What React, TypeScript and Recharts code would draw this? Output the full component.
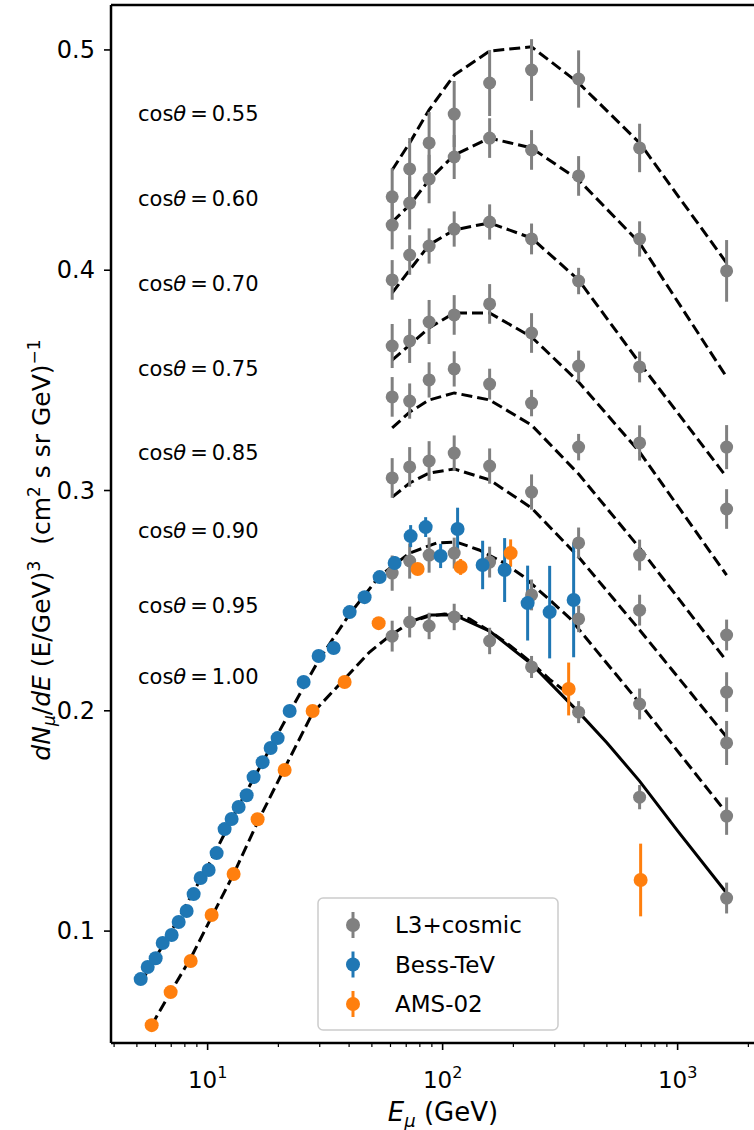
import React from 'react';
import { ComposedChart, Line, Scatter, XAxis, YAxis, ErrorBar, ReferenceLine, Customized } from 'recharts';

// ---------- data ----------
const L3_E = [61, 72.4, 87.6, 112, 158.5, 239, 379, 689, 1616];

const L3_055 = [0.4333, 0.446, 0.4578, 0.4709, 0.485, 0.4909, 0.4868, 0.4555, 0.3997];
const L3_060 = [0.4205, 0.4305, 0.4414, 0.4514, 0.46, 0.4546, 0.4428, 0.4142, 0.3197];
const L3_070 = [0.3956, 0.4069, 0.411, 0.4187, 0.4219, 0.4142, 0.3951, 0.3561, 0.2916];
const L3_075 = [0.3656, 0.3679, 0.3765, 0.3797, 0.3847, 0.3715, 0.3565, 0.3216, 0.2344];
const L3_085 = [0.3425, 0.3406, 0.3502, 0.3552, 0.3483, 0.3397, 0.3197, 0.2707, 0.2085];
const L3_090 = [0.3057, 0.3107, 0.3134, 0.317, 0.3111, 0.2993, 0.2762, 0.2457, 0.1854];
const L3_095 = [0.2625, 0.268, 0.2707, 0.2716, 0.2675, 0.2526, 0.2417, 0.2031, 0.1522];
const L3_100 = [0.2339, 0.2403, 0.2385, 0.2426, 0.2317, 0.2199, 0.1994, 0.1608, 0.115];

const ERR_055 = [0.013, 0.014, 0.014, 0.015, 0.015, 0.014, 0.013, 0.011, 0.014];
const ERR_060 = [0.011, 0.012, 0.011, 0.01, 0.009, 0.009, 0.009, 0.008, 0.01];
const ERR_070 = [0.009, 0.009, 0.008, 0.008, 0.008, 0.007, 0.006, 0.007, 0.009];
const ERR_075 = [0.01, 0.01, 0.01, 0.009, 0.009, 0.009, 0.007, 0.008, 0.007];
const ERR_085 = [0.009, 0.008, 0.008, 0.008, 0.007, 0.006, 0.006, 0.007, 0.009];
const ERR_090 = [0.009, 0.009, 0.009, 0.008, 0.008, 0.008, 0.007, 0.007, 0.01];
const ERR_095 = [0.008, 0.008, 0.008, 0.007, 0.007, 0.007, 0.006, 0.007, 0.0085];
const ERR_100 = [0.007, 0.007, 0.006, 0.006, 0.006, 0.005, 0.005, 0.0055, 0.007];

const BESS_E = [5.19, 5.56, 6.01, 6.44, 7.03, 7.53, 8.14, 8.72, 9.34, 10.1, 10.92, 11.81, 12.65, 13.55, 14.66, 15.69, 17.14, 18.54, 19.86, 22.34, 25.62, 29.68, 34.38, 40.21, 46.56, 53.94, 62.49, 73.1, 84.68, 98.06, 115.8, 148.0, 183.6, 230.0, 285.4, 361.0];
const BESS_V = [0.0782, 0.0837, 0.0877, 0.0946, 0.0982, 0.1041, 0.1091, 0.1168, 0.1241, 0.1277, 0.1354, 0.1463, 0.1509, 0.1563, 0.1617, 0.1699, 0.1767, 0.1831, 0.1876, 0.1999, 0.2131, 0.2249, 0.2285, 0.2448, 0.2516, 0.2607, 0.2671, 0.2793, 0.2834, 0.2703, 0.2825, 0.2662, 0.2639, 0.2489, 0.2448, 0.2503];
const BESS_ERR = [0.001, 0.001, 0.001, 0.001, 0.001, 0.001, 0.001, 0.001, 0.001, 0.001, 0.001, 0.001, 0.001, 0.001, 0.001, 0.001, 0.001, 0.001, 0.001, 0.001, 0.001, 0.0015, 0.0015, 0.002, 0.002, 0.002, 0.003, 0.005, 0.0045, 0.0055, 0.0097, 0.011, 0.0145, 0.017, 0.021, 0.026];

const AMS_E = [5.78, 6.96, 8.47, 10.4, 12.9, 16.32, 21.27, 27.98, 38.28, 53.43, 78.29, 119.3, 194.7, 343.8, 696.0];
const AMS_V = [0.0573, 0.0723, 0.0864, 0.1073, 0.1259, 0.1508, 0.1731, 0.1999, 0.2131, 0.2398, 0.2644, 0.2653, 0.2716, 0.2099, 0.1232];
const AMS_ERR = [0, 0, 0, 0, 0, 0, 0, 0, 0, 0, 0.002, 0.0036, 0.0062, 0.012, 0.0165];

// model curves
const FIT_055 = [0.4455, 0.4578, 0.4728, 0.4886, 0.4995, 0.5014, 0.485, 0.4578, 0.4033];
const FIT_060 = [0.4219, 0.4296, 0.441, 0.4523, 0.46, 0.4555, 0.441, 0.4124, 0.3515];
const FIT_070 = [0.3897, 0.4001, 0.4115, 0.4183, 0.4215, 0.4146, 0.3956, 0.3579, 0.3061];
const FIT_075 = [0.3592, 0.3661, 0.3738, 0.3806, 0.3806, 0.3697, 0.3493, 0.3175, 0.2616];
const FIT_085 = [0.3284, 0.3356, 0.3411, 0.3443, 0.3411, 0.3297, 0.3075, 0.2739, 0.2226];
const FIT_090 = [0.297, 0.3034, 0.3079, 0.3098, 0.3048, 0.2921, 0.2698, 0.2367, 0.1881];

const FIT_095_E = [5.19, 7.24, 10.1, 13.55, 17.14, 22.34, 29.68, 40.21, 53.94, 72.4, 94.4, 114.6, 143.0, 179.9, 219.2, 276.9, 347.2, 689, 1616];
const FIT_095 = [0.0764, 0.1027, 0.13, 0.1568, 0.1767, 0.1994, 0.223, 0.2439, 0.2612, 0.2716, 0.2762, 0.2766, 0.273, 0.2675, 0.2612, 0.2516, 0.2421, 0.2035, 0.1536];

const FIT_AMS_E = [5.78, 6.96, 8.47, 10.4, 12.9, 16.32, 21.27, 27.98, 37.9, 48.9, 59.4, 74.4, 87.8, 101.8, 114.6, 130.1, 158.5, 192.6, 234.2, 284.7, 343.8];
const FIT_AMS = [0.0573, 0.0723, 0.0877, 0.1064, 0.1259, 0.1495, 0.174, 0.199, 0.214, 0.2267, 0.2339, 0.2407, 0.243, 0.2439, 0.2435, 0.2417, 0.2362, 0.2298, 0.2226, 0.2144, 0.2076];

const FIT_100_E = [72.4, 87.6, 112, 158.5, 239, 379, 500, 689, 1000, 1616];
const FIT_100 = [0.2403, 0.2435, 0.2435, 0.2362, 0.2212, 0.1994, 0.1855, 0.1681, 0.1455, 0.1173];

const COS_LABELS = ['0.55', '0.60', '0.70', '0.75', '0.85', '0.90', '0.95', '1.00'];
const LEGEND_NAMES = ['L3+cosmic', 'Bess-TeV', 'AMS-02'];
const Y_TICKS = [0.1, 0.2, 0.3, 0.4, 0.5];
const X_MAJOR = [10, 100, 1000];
const X_TICKS = [4, 5, 6, 7, 8, 9, 10, 20, 30, 40, 50, 60, 70, 80, 90, 100, 200, 300, 400, 500, 600, 700, 800, 900, 1000, 2000];

// ---------- styling ----------
const GRAY = '#808080';
const BLUE = '#1f77b4';
const ORANGE = '#ff7f0e';
const FONT = 'DejaVu Sans';
const X_DOMAIN = [3.88, 2198];
const Y_DOMAIN = [0.0492, 0.5204];

const pts = (xs: number[], ys: number[], es?: number[]) =>
  xs.map((x, i) => ({ x, y: ys[i], e: es ? es[i] : 0 }));

const L3_SERIES = [
  pts(L3_E, L3_055, ERR_055),
  pts(L3_E, L3_060, ERR_060),
  pts(L3_E, L3_070, ERR_070),
  pts(L3_E, L3_075, ERR_075),
  pts(L3_E, L3_085, ERR_085),
  pts(L3_E, L3_090, ERR_090),
  pts(L3_E, L3_095, ERR_095),
  pts(L3_E, L3_100, ERR_100),
];
const DASHED_FITS = [
  pts(L3_E, FIT_055),
  pts(L3_E, FIT_060),
  pts(L3_E, FIT_070),
  pts(L3_E, FIT_075),
  pts(L3_E, FIT_085),
  pts(L3_E, FIT_090),
  pts(FIT_095_E, FIT_095),
  pts(FIT_AMS_E, FIT_AMS),
];
const SOLID_FIT = pts(FIT_100_E, FIT_100);
const BESS = pts(BESS_E, BESS_V, BESS_ERR);
const AMS = pts(AMS_E, AMS_V, AMS_ERR);

const dot = (color: string, r: number) => (p: any) =>
  p.cx == null ? <g /> : <circle cx={p.cx} cy={p.cy} r={r} fill={color} />;

const XTick = (props: any) => {
  const { x, y, payload } = props;
  const v = payload.value;
  const major = X_MAJOR.includes(v);
  const exp = Math.round(Math.log10(v));
  return (
    <g>
      <line x1={x} x2={x} y1={y} y2={y + (major ? 7 : 4)} stroke="#000" strokeWidth={major ? 1.6 : 1.2} />
      {major && (
        <text x={x} y={y + 45} textAnchor="middle" fontSize={23} fontFamily={FONT} fill="#000">
          10<tspan dy={-10} fontSize={16}>{exp}</tspan>
        </text>
      )}
    </g>
  );
};

const YTick = (props: any) => {
  const { x, y, payload } = props;
  return (
    <g>
      <line x1={x} x2={x - 7} y1={y} y2={y} stroke="#000" strokeWidth={1.6} />
      <text x={x - 16} y={y + 8} textAnchor="end" fontSize={24} fontFamily={FONT} fill="#000">
        {payload.value.toFixed(1)}
      </text>
    </g>
  );
};

const LABEL_Y = [114, 199, 284, 369, 453, 531, 606, 677];

const Annotations = () => (
  <g fontFamily={FONT} fill="#000">
    {COS_LABELS.map((c, i) => (
      <text key={c} x={138} y={LABEL_Y[i] + 7} fontSize={21} style={{ whiteSpace: 'pre' }}>
        cos<tspan fontStyle="italic">θ</tspan>
        <tspan dx={4}>=</tspan>
        <tspan dx={4}>{c}</tspan>
      </text>
    ))}
    {/* legend */}
    <rect x={318} y={898} width={240} height={132} rx={5} fill="#fff" fillOpacity={0.8} stroke="#cccccc" strokeWidth={1.5} />
    {LEGEND_NAMES.map((n, i) => {
      const cy = 925 + i * 39.5;
      const color = [GRAY, BLUE, ORANGE][i];
      return (
        <g key={n}>
          <line x1={353} x2={353} y1={cy - 13} y2={cy + 13} stroke={color} strokeWidth={3} />
          <circle cx={353} cy={cy} r={7} fill={color} />
          <text x={395} y={cy + 8} fontSize={23}>{n}</text>
        </g>
      );
    })}
    {/* y label */}
    <text transform="translate(50,550) rotate(-90)" textAnchor="middle" fontSize={25} style={{ whiteSpace: 'pre' }}>
      <tspan fontStyle="italic">dN</tspan>
      <tspan fontStyle="italic" fontSize={17} dy={5}>μ</tspan>
      <tspan dy={-5}>/</tspan>
      <tspan fontStyle="italic">dE</tspan>
      <tspan>{' (E/GeV)'}</tspan>
      <tspan fontSize={17} dy={-10}>3</tspan>
      <tspan dy={10}>{'  (cm'}</tspan>
      <tspan fontSize={17} dy={-10}>2</tspan>
      <tspan dy={10}>{' s sr GeV)'}</tspan>
      <tspan fontSize={17} dy={-10}>−1</tspan>
    </text>
    {/* x label */}
    <text x={443} y={1121} textAnchor="middle" fontSize={26} style={{ whiteSpace: 'pre' }}>
      <tspan fontStyle="italic">E</tspan>
      <tspan fontStyle="italic" fontSize={18} dy={6}>μ</tspan>
      <tspan dy={-6}>{' (GeV)'}</tspan>
    </text>
  </g>
);

export default function App() {
  return (
    <div style={{ position: 'absolute', left: 0, top: 0, width: 754, height: 1130, overflow: 'hidden', background: '#fff' }}>
      <ComposedChart width={758} height={1130} margin={{ top: 5, right: 0, bottom: 0, left: 0 }}>
        <XAxis
          dataKey="x"
          type="number"
          scale="log"
          domain={X_DOMAIN}
          allowDataOverflow
          ticks={X_TICKS}
          interval={0}
          height={87}
          tickSize={0}
          tickMargin={0}
          tickLine={false}
          tick={<XTick />}
          axisLine={{ stroke: '#000', strokeWidth: 2.5 }}
        />
        <YAxis
          dataKey="y"
          type="number"
          domain={Y_DOMAIN}
          allowDataOverflow
          ticks={Y_TICKS}
          interval={0}
          width={111}
          tickSize={0}
          tickMargin={0}
          tickLine={false}
          tick={<YTick />}
          axisLine={{ stroke: '#000', strokeWidth: 2.5 }}
        />
        <ReferenceLine y={Y_DOMAIN[1]} stroke="#000" strokeWidth={2.5} />
        {DASHED_FITS.map((d, i) => (
          <Line
            key={'fit' + i}
            data={d}
            dataKey="y"
            stroke="#000"
            strokeWidth={3}
            strokeDasharray="11 5"
            dot={false}
            activeDot={false}
            isAnimationActive={false}
            type="linear"
          />
        ))}
        <Line data={SOLID_FIT} dataKey="y" stroke="#000" strokeWidth={3} dot={false} activeDot={false} isAnimationActive={false} type="linear" />
        {L3_SERIES.map((d, i) => (
          <Scatter key={'l3' + i} data={d} shape={dot(GRAY, 6.5)} isAnimationActive={false}>
            <ErrorBar dataKey="e" direction="y" width={0} stroke={GRAY} strokeWidth={3} />
          </Scatter>
        ))}
        <Scatter data={BESS} shape={dot(BLUE, 7)} isAnimationActive={false}>
          <ErrorBar dataKey="e" direction="y" width={0} stroke={BLUE} strokeWidth={3} />
        </Scatter>
        <Scatter data={AMS} shape={dot(ORANGE, 7)} isAnimationActive={false}>
          <ErrorBar dataKey="e" direction="y" width={0} stroke={ORANGE} strokeWidth={3} />
        </Scatter>
        <Customized component={Annotations} />
      </ComposedChart>
    </div>
  );
}
